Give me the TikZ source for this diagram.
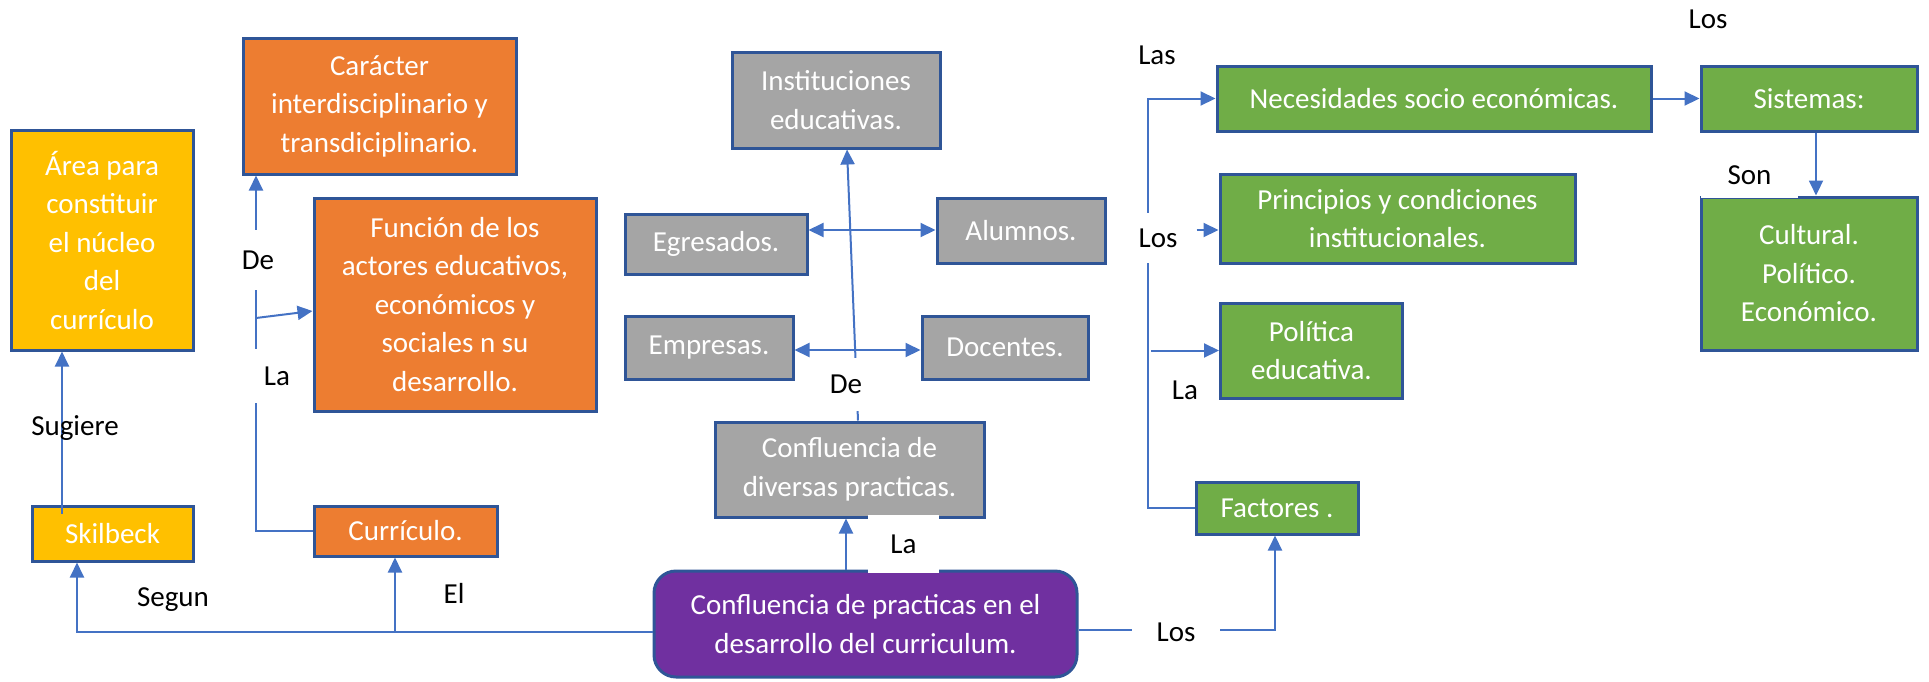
\documentclass[tikz,border=0pt]{standalone}
\usepackage{fontspec}
\setmainfont{Carlito}
\usetikzlibrary{arrows.meta}
\definecolor{bordc}{HTML}{2F5597}
\definecolor{arrc}{HTML}{4472C4}
\definecolor{orng}{HTML}{ED7D31}
\definecolor{gold}{HTML}{FFC000}
\definecolor{gry}{HTML}{A5A5A5}
\definecolor{grn}{HTML}{70AD47}
\definecolor{purp}{HTML}{7030A0}
\tikzset{
  txt/.style={font=\fontsize{29}{38.5}\selectfont},
  box/.style={txt, draw=bordc, line width=3pt, inner sep=0pt, text=white, align=center},
  obox/.style={box, fill=orng},
  ybox/.style={box, fill=gold},
  gbox/.style={box, fill=gry},
  grbox/.style={box, fill=grn},
  pbox/.style={box, fill=purp, rounded corners=22pt},
  lab/.style={txt, text=black, inner sep=0pt},
  gap/.style={lab, fill=white},
  conn/.style={draw=arrc, line width=2pt},
  tip/.style={-{Triangle[length=15pt,width=14pt]}},
  tips/.style={{Triangle[length=15pt,width=14pt]}-{Triangle[length=15pt,width=14pt]}}
}
\begin{document}
\begin{tikzpicture}[x=1pt,y=-1pt]
\useasboundingbox (0,0) rectangle (1929,681);
% boxes
\node[ybox, minimum width=182pt, minimum height=220pt] (area) at (102,240) {Área para\\constituir\\el núcleo\\del\\currículo};
\node[obox, minimum width=273pt, minimum height=136pt] (car) at (379.5,106) {Carácter\\interdisciplinario y\\transdiciplinario.};
\node[obox, minimum width=282pt, minimum height=213pt] (fun) at (455,304.5) {Función de los\\actores educativos,\\económicos y\\sociales n su\\desarrollo.};
\node[ybox, minimum width=161pt, minimum height=55pt] (skil) at (112.5,533.5) {Skilbeck};
\node[obox, minimum width=183pt, minimum height=50pt] (cur) at (405.5,531) {Currículo.};
\node[gbox, minimum width=208pt, minimum height=96pt] (inst) at (836,100) {Instituciones\\educativas.};
\node[gbox, minimum width=182pt, minimum height=60pt] (egr) at (716,244) {Egresados.};
\node[gbox, minimum width=168pt, minimum height=65pt] (alu) at (1021,230.5) {Alumnos.};
\node[gbox, minimum width=168pt, minimum height=63pt] (emp) at (709,347.5) {Empresas.};
\node[gbox, minimum width=166pt, minimum height=63pt] (doc) at (1005,347.5) {Docentes.};
\node[gbox, minimum width=269pt, minimum height=95pt] (conf) at (849.5,469.5) {Confluencia de\\diversas practicas.};
\node[pbox, minimum width=423pt, minimum height=106pt] (pur) at (865.5,624) {Confluencia de practicas en el\\desarrollo del curriculum.};
\node[grbox, minimum width=434pt, minimum height=65pt] (nec) at (1434,98.5) {Necesidades socio económicas.};
\node[grbox, minimum width=216pt, minimum height=65pt] (sis) at (1809,98.5) {Sistemas:};
\node[grbox, minimum width=216pt, minimum height=153pt] (cult) at (1809,273.5) {Cultural.\\Político.\\Económico.};
\node[grbox, minimum width=355pt, minimum height=89pt] (pri) at (1397.5,218.5) {Principios y condiciones\\institucionales.};
\node[grbox, minimum width=182pt, minimum height=95pt] (pol) at (1311.5,350.5) {Política\\educativa.};
\node[grbox, minimum width=162pt, minimum height=52pt] (fac) at (1277,508) {Factores .};
% connectors
\coordinate (j1) at (395,632);
\coordinate (j2) at (256,318);
\draw[conn,tip] ([xshift=-50.5pt,yshift=-9pt]skil.north) -- ([xshift=-40pt]area.south);
\draw[conn,tip] ([yshift=-8pt]pur.west) -| ([xshift=-35.5pt]skil.south);
\draw[conn,tip] (j1) -- ([xshift=-10.5pt]cur.south);
\draw[conn,tip] (cur.west) -| ([xshift=-123.5pt]car.south);
\draw[conn,tip] (j2) -- ([yshift=-6.5pt]fun.west);
\draw[conn,tip] ([xshift=-19.5pt]pur.north) -- ([xshift=-3.5pt]conf.south);
\draw[conn,tip] ([xshift=8.5pt]conf.north) -- ([xshift=11pt]inst.south);
\draw[conn,tips] ([yshift=14pt]egr.east) -- ([yshift=14pt]egr.east -| alu.west);
\draw[conn,tips] ([yshift=-2.5pt]emp.east) -- ([yshift=-2.5pt]emp.east -| doc.west);
\draw[conn,tip] ([yshift=-6pt]pur.east) -| ([xshift=-2pt]fac.south);
\draw[conn,tip] (fac.west) -- ++(-47,0) |- (nec.west);
\draw[conn,tip] ([xshift=-22pt,yshift=-11.5pt]pri.west) -- ([yshift=-11.5pt]pri.west);
\draw[conn,tip] ([xshift=-68pt]pol.west) -- (pol.west);
\draw[conn,tip] (nec.east) -- (sis.west);
\draw[conn,tip] ([xshift=7pt]sis.south) -- ([xshift=7pt]cult.north);
% labels
\node[lab] (lsug) at (75,428) {Sugiere};
\node[lab] (lseg) at (173,600) {Segun};
\node[lab] (lel) at (454,593) {El};
\node[gap, minimum width=34pt, minimum height=60pt] (lde1) at (258,260) {De};
\node[gap, minimum width=56pt, minimum height=54pt] (lla1) at (277,376) {La};
\node[gap, minimum width=71pt, minimum height=58pt] (lla2) at (903.5,544) {La};
\node[gap, minimum width=45pt, minimum height=53pt] (lde2) at (846,384.5) {De};
\node[gap, minimum width=88pt, minimum height=40pt] (llos1) at (1176,632) {Los};
\node[lab] (llas) at (1157,55) {Las};
\node[gap, minimum width=44pt, minimum height=50pt] (llos2) at (1158,238) {Los};
\node[lab] (lla3) at (1185,390) {La};
\node[gap, minimum width=97pt, minimum height=46pt] (lson) at (1749.5,175) {Son};
\node[lab] (llos3) at (1708,19) {Los};
\end{tikzpicture}
\end{document}
